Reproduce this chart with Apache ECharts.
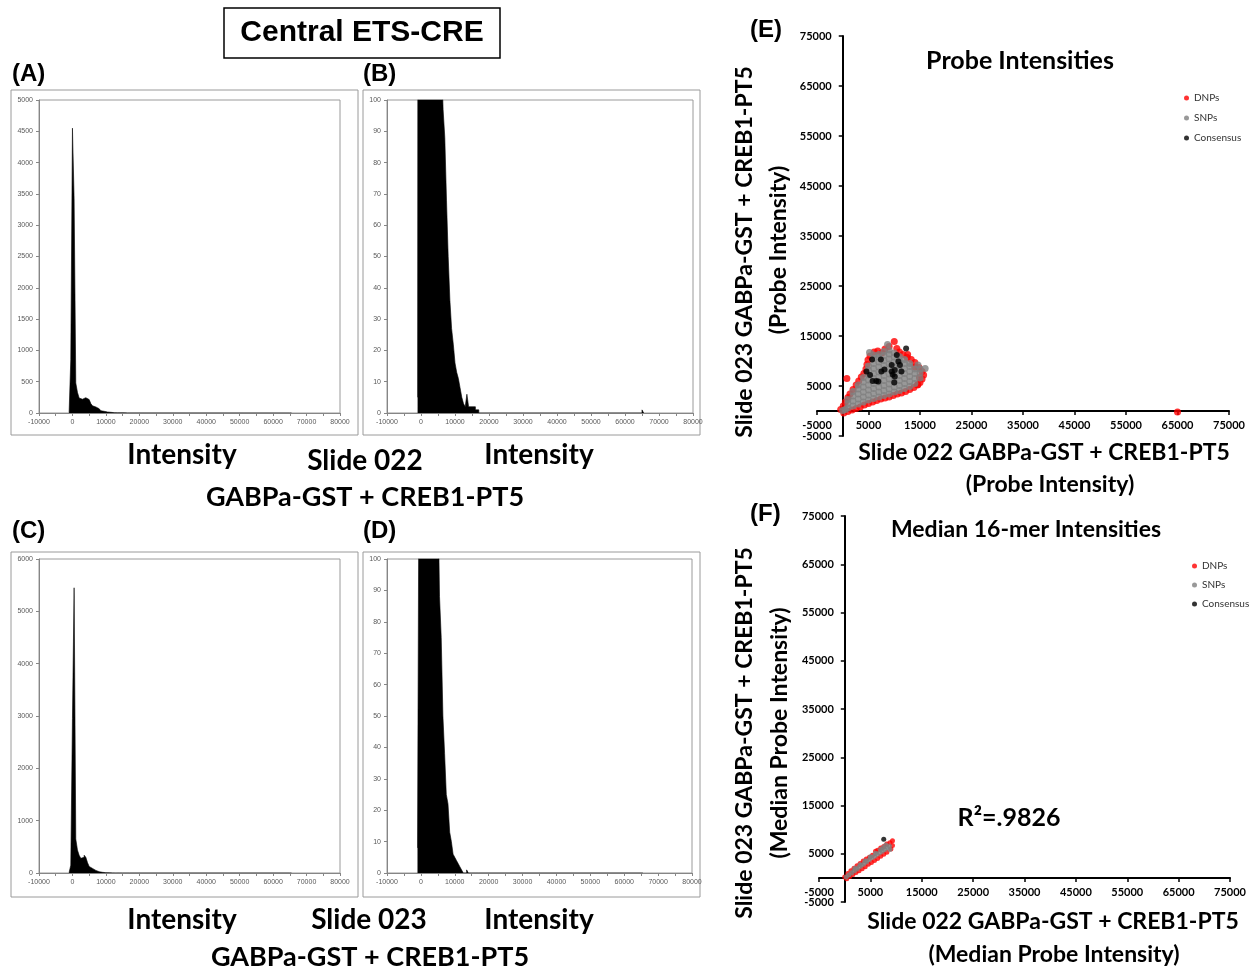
<!DOCTYPE html>
<html>
<head>
<meta charset="utf-8" />
<script src="https://cdn.jsdelivr.net/npm/echarts@6/dist/echarts.min.js"></script>
<style type="text/css">
html, body, #main {
	width: 100%;
	height: 100%;
	margin: 0;
	background: #fff;
}
</style>
</head>
<body>
<div id="main"></div>
<script>
// histogram bins (left edges), counts per bin
var bins = [-1000, -500, 0, 500, 1000, 1500, 2000, 2500, 3000, 3500, 4000, 4500, 5000, 5500, 6000, 6500, 7000, 7500, 8000, 8500,
	9000, 9500, 10000, 10500, 11000, 11500, 12000, 12500, 13000, 13500, 14000, 14500, 15000, 15500, 16000, 16500, 17000, 65000, 65500];
var countsSlide022 = [5, 850, 4550, 3420, 480, 330, 240, 220, 240, 245, 235, 215, 185, 150, 115, 97, 88, 68, 50, 36,
	27, 22, 16, 13, 11, 8, 5, 3, 2, 6, 2, 2, 2, 2, 1, 1, 0, 1, 0];
var countsSlide023 = [8, 150, 2950, 5450, 650, 440, 340, 280, 300, 340, 300, 200, 125, 88, 75, 50, 38, 25, 22, 13,
	10, 6, 5, 4, 3, 2, 1, 0, 0, 1, 0, 0, 0, 0, 0, 0, 0, 0, 0];

var histXTicks = [-10000, 80000, 10000];

// panel E: probe intensities (slide 022, slide 023)
var dnpsE = [
	[200, -400], [1000, -100], [1800, 200], [2600, 500], [3400, 800], [4200, 1200], [5000, 1500], [5800, 1800], [6600, 2100],
	[7400, 2400], [8200, 2600], [9000, 2800], [9800, 3100], [10600, 3400], [11400, 3600], [12200, 3900], [13000, 4300],
	[13800, 4700], [14500, 5200], [15000, 5700], [15400, 6400], [15700, 7200], [15400, 7900], [14800, 8700],
	[-400, 300], [100, 1000], [500, 1800], [1000, 2700], [1400, 3400], [2000, 4300], [2600, 5200], [3100, 6000],
	[3600, 6800], [4100, 7500], [4500, 8400], [4700, 9300], [4900, 10200], [5300, 11000], [800, 6500],
	[6100, 11800], [6800, 12000], [7600, 11600], [8200, 12400], [9000, 12900], [10000, 13900], [10500, 12500],
	[11000, 11800], [11700, 11300], [12600, 11300], [12500, 10700], [13300, 10300], [14000, 9700], [14000, 8800],
	[14900, 6700], [14600, 5300], [65000, -200]
];
var snpsE = [
	[0, 100], [500, 300],
	[1000, 600], [1000, 1500], [1000, 2300],
	[2000, 1000], [2000, 2000], [2000, 3000], [2000, 3900],
	[3000, 1400], [3000, 2400], [3000, 3400], [3000, 4400], [3000, 5200],
	[4000, 1800], [4000, 2800], [4000, 3800], [4000, 4800], [4000, 5800], [4000, 6700],
	[5000, 2200], [5000, 3200], [5000, 4200], [5000, 5200], [5000, 6200], [5000, 7200], [5000, 8200], [5000, 9000],
	[5200, 11700],
	[6000, 2500], [6000, 3500], [6000, 4500], [6000, 5500], [6000, 6500], [6000, 7500], [6000, 8500], [6000, 9500], [6000, 10500], [6000, 11200],
	[7000, 2800], [7000, 3800], [7000, 4800], [7000, 5800], [7000, 6800], [7000, 7800], [7000, 8800], [7000, 9800], [7000, 10800], [7000, 11300],
	[8000, 3100], [8000, 4100], [8000, 5100], [8000, 6100], [8000, 7100], [8000, 8100], [8000, 9100], [8000, 10100], [8000, 11100], [8000, 11900],
	[8700, 13300],
	[9000, 3400], [9000, 4400], [9000, 5400], [9000, 6400], [9000, 7400], [9000, 8400], [9000, 9400], [9000, 10400], [9000, 11400], [9000, 12200],
	[10000, 3800], [10000, 4800], [10000, 5800], [10000, 6800], [10000, 7800], [10000, 8800], [10000, 9800], [10000, 10800], [10000, 11600],
	[11000, 4100], [11000, 5100], [11000, 6100], [11000, 7100], [11000, 8100], [11000, 9100], [11000, 10100], [11000, 10900],
	[12000, 4500], [12000, 5500], [12000, 6500], [12000, 7500], [12000, 8500], [12000, 9500], [12000, 10300],
	[13000, 4900], [13000, 5900], [13000, 6900], [13000, 7900], [13000, 8900], [13000, 9500],
	[14000, 5500], [14000, 6500], [14000, 7500], [14000, 8400],
	[14600, 9200], [15000, 6600], [15000, 7600], [15000, 8400], [16000, 8500]
];
var consensusE = [
	[4600, 7900], [5300, 7200], [5800, 6000], [6500, 6000], [6900, 5900], [7500, 7900], [5700, 10300], [7400, 10300],
	[9500, 9200], [10500, 11200], [10800, 9900], [11100, 9200], [11400, 7900], [12300, 12500], [10100, 8200],
	[9500, 7900], [10100, 6900], [9700, 7300], [10000, 5700], [8100, 8300]
];

// panel F: median 16-mer intensities
var dnpsF = [
	[0, 200], [600, 900], [1200, 1500], [1800, 2000], [2400, 2500], [3000, 3000], [3600, 3500], [4200, 3900], [4800, 4300],
	[5400, 4700], [6000, 5500], [6400, 5700], [7000, 6200], [7600, 6500], [8200, 7000], [8800, 7300], [9300, 7700],
	[400, -200], [1000, 300], [1600, 700], [2200, 1100], [2800, 1500], [3400, 1900], [4000, 2300], [4600, 2800],
	[5200, 3200], [5800, 3600], [6400, 4000], [7000, 4500], [7600, 4900], [8200, 5300], [9000, 6000], [9300, 6700]
];
var snpsF = [
	[300, 200], [800, 600], [1300, 1000], [1800, 1400], [2300, 1800], [2800, 2200], [3300, 2600], [3800, 3000],
	[4300, 3400], [4800, 3800], [5300, 4200], [5800, 4500], [6300, 4900], [6800, 5200], [7300, 5500], [7800, 5900],
	[8300, 6300], [8700, 6600], [7500, 6300], [8000, 6800], [4000, 3500], [6000, 5100], [2000, 2000], [5000, 4400],
	[3000, 2700], [7000, 5900], [8800, 5900]
];
var consensusF = [[7600, 8000]];

var seriesNames = ['DNPs', 'SNPs', 'Consensus'];
var seriesColors = ['#ff0000', '#808080', '#000000'];

var chart = echarts.init(document.getElementById('main'));

function plain(v) { return String(v); }

function histData(counts) {
	return bins.map(function (b, i) { return [b, counts[i]]; });
}

function histX(idx) {
	return {
		type: 'value', gridIndex: idx, min: histXTicks[0], max: histXTicks[1], interval: histXTicks[2],
		axisLine: { onZero: false, lineStyle: { color: '#868686', width: 1 } },
		axisTick: { show: true, length: 3, lineStyle: { color: '#868686' } },
		minorTick: { show: true, splitNumber: 2, length: 3, lineStyle: { color: '#868686' } },
		axisLabel: { fontSize: 7, color: '#595959', margin: 6, fontFamily: 'Liberation Sans', formatter: plain },
		splitLine: { show: false }
	};
}
function histY(idx, max, step) {
	return {
		type: 'value', gridIndex: idx, min: 0, max: max, interval: step,
		axisLine: { show: true, onZero: false, lineStyle: { color: '#868686', width: 1 } },
		axisTick: { show: true, length: 3, lineStyle: { color: '#868686' } },
		axisLabel: { fontSize: 7, color: '#595959', margin: 6, fontFamily: 'Liberation Sans', formatter: plain },
		splitLine: { show: false }
	};
}
function histSeries(idx, counts) {
	return {
		type: 'line', xAxisIndex: idx, yAxisIndex: idx, step: 'end', data: histData(counts),
		symbol: 'none', clip: true, silent: true,
		lineStyle: { color: '#000', width: 0.6 },
		areaStyle: { color: '#000', opacity: 1 }
	};
}
// the zero line sits 5000 units inside the grid: shift the axes there
function scatX(idx, shift) {
	return {
		type: 'value', gridIndex: idx, min: -5000, max: 75000, interval: 10000, offset: -shift,
		axisLine: { onZero: false, lineStyle: { color: '#000', width: 2 } },
		axisTick: { show: true, length: 4, lineStyle: { color: '#000', width: 1.5 } },
		axisLabel: { fontSize: 11, fontWeight: 'bold', color: '#000', margin: 9, formatter: plain },
		splitLine: { show: false }
	};
}
function scatY(idx, shift) {
	return {
		type: 'value', gridIndex: idx, min: -5000, max: 75000, interval: 10000, offset: -shift,
		axisLine: { show: true, onZero: false, lineStyle: { color: '#000', width: 2 } },
		axisTick: { show: true, length: 4, lineStyle: { color: '#000', width: 1.5 } },
		axisLabel: { fontSize: 11, fontWeight: 'bold', color: '#000', margin: 11, formatter: plain },
		splitLine: { show: false }
	};
}
function scatSeries(idx, k, data, size) {
	return {
		type: 'scatter', name: seriesNames[k], xAxisIndex: idx, yAxisIndex: idx, data: data,
		symbolSize: size, itemStyle: { color: seriesColors[k] }, silent: true
	};
}

function txt(x, y, text, size, opts) {
	opts = opts || {};
	return {
		type: 'text', x: x, y: y, rotation: opts.rot || 0, silent: true,
		style: {
			text: text, fontSize: size, fontWeight: 'bold', fontFamily: opts.font || 'Lato',
			fill: '#000', align: opts.align || 'center', verticalAlign: 'middle'
		}
	};
}
function box(x, y, w, h, color, lw) {
	return { type: 'rect', silent: true, shape: { x: x, y: y, width: w, height: h },
		style: { fill: 'none', stroke: color, lineWidth: lw } };
}

var legendBase = {
	orient: 'vertical', itemWidth: 5, itemHeight: 5, icon: 'circle', selectedMode: false,
	data: seriesNames, textStyle: { fontSize: 10, color: '#333', fontFamily: 'Lato' }
};

var option = {
	animation: false,
	textStyle: { fontFamily: 'Lato' },
	grid: [
		{ left: 39, top: 100, width: 301, height: 313, show: true, borderColor: '#9a9a9a', borderWidth: 1 },
		{ left: 387, top: 100, width: 306, height: 313, show: true, borderColor: '#9a9a9a', borderWidth: 1 },
		{ left: 39, top: 559, width: 301, height: 314, show: true, borderColor: '#9a9a9a', borderWidth: 1 },
		{ left: 387, top: 559, width: 305, height: 314, show: true, borderColor: '#9a9a9a', borderWidth: 1 },
		{ left: 817, top: 36, width: 412, height: 400 },
		{ left: 819, top: 516, width: 413, height: 386 }
	],
	xAxis: [histX(0), histX(1), histX(2), histX(3), scatX(4, 25), scatX(5, 24.1)],
	yAxis: [histY(0, 5000, 500), histY(1, 100, 10), histY(2, 6000, 1000), histY(3, 100, 10), scatY(4, 25.75), scatY(5, 25.8)],
	legend: [
		Object.assign({}, legendBase, { left: 1179, top: 88, itemGap: 10 }),
		Object.assign({}, legendBase, { left: 1187, top: 556, itemGap: 9 })
	],
	series: [
		histSeries(0, countsSlide022),
		histSeries(1, countsSlide022),
		histSeries(2, countsSlide023),
		histSeries(3, countsSlide023),
		scatSeries(4, 0, dnpsE, 7),
		scatSeries(4, 1, snpsE, 7),
		scatSeries(4, 2, consensusE, 6),
		scatSeries(5, 0, dnpsF, 5),
		scatSeries(5, 1, snpsF, 5),
		scatSeries(5, 2, consensusF, 5)
	],
	graphic: [
		box(224, 8, 276, 50, '#000', 1.5),
		txt(362, 33, 'Central ETS-CRE', 30, { font: 'Liberation Sans' }),
		txt(12, 74, '(A)', 24, { font: 'Liberation Sans', align: 'left' }),
		txt(363, 74, '(B)', 24, { font: 'Liberation Sans', align: 'left' }),
		txt(12, 531, '(C)', 24, { font: 'Liberation Sans', align: 'left' }),
		txt(363, 531, '(D)', 24, { font: 'Liberation Sans', align: 'left' }),
		txt(750, 30, '(E)', 24, { font: 'Liberation Sans', align: 'left' }),
		txt(750, 514, '(F)', 24, { font: 'Liberation Sans', align: 'left' }),
		box(11, 90, 347, 345, '#9a9a9a', 1),
		box(363, 90, 337, 345, '#9a9a9a', 1),
		box(11, 552, 347, 345, '#9a9a9a', 1),
		box(363, 552, 337, 345, '#9a9a9a', 1),
		txt(182, 455, 'Intensity', 28),
		txt(365, 461, 'Slide 022', 28),
		txt(539, 455, 'Intensity', 28),
		txt(365, 497, 'GABPa-GST + CREB1-PT5', 27),
		txt(182, 920, 'Intensity', 28),
		txt(369, 920, 'Slide 023', 28),
		txt(539, 920, 'Intensity', 28),
		txt(370, 957, 'GABPa-GST + CREB1-PT5', 27),
		txt(1020, 61, 'Probe Intensities', 25),
		txt(1026, 530, 'Median 16-mer Intensities', 23),
		txt(1009, 818, 'R²=.9826', 25),
		txt(745, 252, 'Slide 023 GABPa-GST + CREB1-PT5', 23, { rot: Math.PI / 2 }),
		txt(779, 250, '(Probe Intensity)', 23, { rot: Math.PI / 2 }),
		txt(1044, 453, 'Slide 022 GABPa-GST + CREB1-PT5', 23),
		txt(1050, 485, '(Probe Intensity)', 23),
		txt(745, 733, 'Slide 023 GABPa-GST + CREB1-PT5', 23, { rot: Math.PI / 2 }),
		txt(780, 733, '(Median Probe Intensity)', 23, { rot: Math.PI / 2 }),
		txt(1053, 922, 'Slide 022 GABPa-GST + CREB1-PT5', 23),
		txt(1054, 955, '(Median Probe Intensity)', 23)
	]
};

chart.setOption(option);

window.onresize = function () {
	chart.resize();
};
</script>
</body>
</html>
